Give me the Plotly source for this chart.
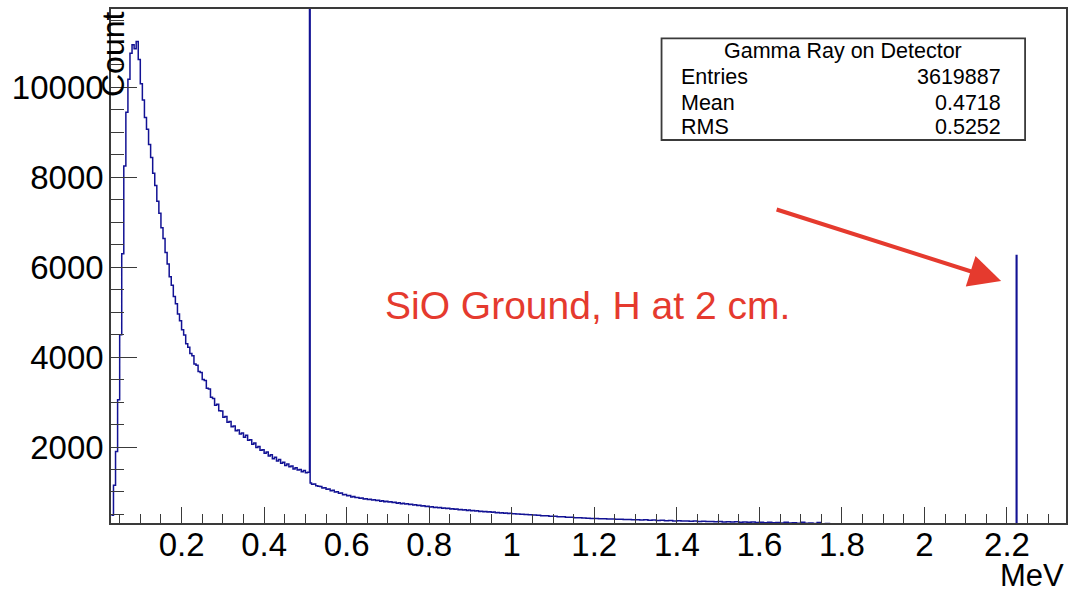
import numpy as np
import plotly.graph_objects as go

# ---- data ----
# bins of 0.005 MeV starting at 0.030 MeV
counts_low = [480, 1150, 1900, 3050, 4500, 6300, 8250, 9450, 10180, 10760,
              10950, 10860, 11020, 10620, 10080, 9720, 9330, 9070, 8730, 8440,
              8090, 7820, 7470, 7200, 6880, 6640, 6330, 6070, 5790, 5600,
              5350, 5190, 4960, 4810, 4610, 4490, 4300, 4220, 4080, 4030,
              3850, 3820, 3680, 3660, 3500, 3480, 3310, 3290, 3110, 3080,
              2930, 2950, 2810, 2800, 2660, 2680, 2550, 2570, 2450, 2470,
              2360, 2380, 2290, 2310, 2220, 2260, 2150, 2160, 2060, 2090,
              1990, 2010, 1930, 1940, 1860, 1890, 1800, 1830, 1740, 1770,
              1690, 1720, 1640, 1660, 1590, 1620, 1560, 1580, 1510, 1540,
              1490, 1500, 1450, 1480, 1430, 1440]
# annihilation line bin (0.510-0.5115 MeV)
peak_511 = 40000
# bins after the 511 keV line: first 0.5115-0.515, then 0.005 MeV bins up to 1.0 MeV
counts_mid = [1200,
              1170, 1180, 1140, 1130, 1120, 1090, 1095, 1060, 1065, 1030,
              1040, 1000, 1005, 970, 975, 940, 945, 915, 920, 890,
              900, 875, 880, 860, 865, 845, 850, 835, 840, 820,
              830, 810, 815, 795, 805, 785, 795, 775, 785, 765,
              770, 750, 760, 740, 750, 730, 738, 720, 728, 708,
              715, 698, 705, 688, 694, 676, 683, 665, 672, 656,
              663, 648, 654, 639, 646, 631, 637, 622, 629, 614,
              621, 607, 612, 598, 605, 590, 597, 583, 588, 575,
              580, 567, 573, 561, 565, 553, 559, 547, 552, 540,
              545, 534, 539, 528, 532, 521, 526]
# 0.01 MeV bins from 1.0 to 1.8 MeV
counts_high = [515, 508, 506, 497, 495, 486, 484, 474, 472, 462,
               460, 450, 448, 439, 437, 428, 427, 419, 418, 411,
               411, 404, 405, 398, 399, 393, 394, 388, 390, 383,
               385, 378, 380, 372, 375, 366, 369, 361, 364, 357,
               360, 352, 356, 348, 352, 345, 349, 342, 346, 338,
               343, 335, 340, 332, 337, 329, 334, 326, 331, 322,
               328, 318, 325, 315, 322, 312, 327, 309, 316, 305,
               325, 302, 309, 298, 322, 295, 300, 292, 296, 289]
tail_before = 250      # 1.80 - 2.2225 MeV
peak_2223 = 6260       # neutron capture on H line
tail_after = 150       # 2.224 - 2.35 MeV

stats_title = "Gamma Ray on Detector"
stats_rows = [("Entries", "3619887"), ("Mean", "0.4718"), ("RMS", "0.5252")]
note_text = "SiO Ground, H at 2 cm."

# ---- histogram edges ----
edges = list(np.round(0.030 + 0.005 * np.arange(len(counts_low)), 4))
vals = list(counts_low)
edges += [0.510]
vals += [peak_511]
edges += [0.5115] + list(np.round(0.515 + 0.005 * np.arange(len(counts_mid) - 1), 4))
vals += counts_mid
edges += list(np.round(1.0 + 0.01 * np.arange(len(counts_high)), 4))
vals += counts_high
edges += [1.80, 2.2225, 2.224]
vals += [tail_before, peak_2223, tail_after]
edges += [2.35]
vals += [tail_after]

hist_color = "#121294"
font_family = "Liberation Sans, Arial, Helvetica, sans-serif"

fig = go.Figure()
fig.add_trace(go.Scatter(x=edges, y=vals, mode="lines", line_shape="hv",
                         line=dict(color=hist_color, width=1.5),
                         hoverinfo="skip", showlegend=False))

W, H = 1075, 594
ml, mr, mt, mb = 111, 7, 9, 71
pw, ph = W - ml - mr, H - mt - mb

def px(xp):
    return (xp - ml) / pw

def py(yp):
    return (H - mb - yp) / ph

axis_line = dict(showline=True, linecolor="#3a3a3a", linewidth=1.6, mirror=True,
                 showgrid=False, zeroline=False)

fig.update_layout(
    width=W, height=H,
    margin=dict(l=ml, r=mr, t=mt, b=mb, pad=0),
    paper_bgcolor="white", plot_bgcolor="white",
    font=dict(family=font_family, color="black"),
    xaxis=dict(range=[0.029, 2.343], dtick=0.2, tick0=0, ticks="inside",
               ticklen=16, tickwidth=1.3, tickcolor="#3a3a3a",
               tickfont=dict(size=33), ticklabelstandoff=-8,
               minor=dict(dtick=0.05, tick0=0, ticks="inside", ticklen=9,
                          tickwidth=1.2, tickcolor="#3a3a3a"),
               **axis_line),
    yaxis=dict(range=[310, 11745], dtick=2000, tick0=0, ticks="inside",
               ticklen=26, tickwidth=1.3, tickcolor="#3a3a3a", tickformat="d",
               tickfont=dict(size=33), ticklabelstandoff=-1,
               minor=dict(dtick=500, tick0=0, ticks="inside", ticklen=13,
                          tickwidth=1.2, tickcolor="#3a3a3a"),
               **axis_line),
)

# axis titles (ROOT style)
fig.add_annotation(text="Count", xref="paper", yref="paper", x=px(112.5), y=py(53.5),
                   textangle=-90, showarrow=False, xanchor="center", yanchor="middle",
                   font=dict(size=32))
fig.add_annotation(text="MeV", xref="paper", yref="paper", x=px(1067), y=py(575),
                   showarrow=False, xanchor="right", yanchor="middle", borderpad=0,
                   font=dict(size=31))

# stats box
bx0, bx1, by0, by1 = 662.7, 1027, 38.3, 140
fig.add_shape(type="rect", xref="paper", yref="paper",
              x0=px(bx0), x1=px(bx1), y0=py(by1), y1=py(by0),
              line=dict(color="#3a3a3a", width=1.8), fillcolor="white", layer="above")
fig.add_annotation(text=stats_title, xref="paper", yref="paper",
                   x=px((bx0 + bx1) / 2), y=py(51), showarrow=False,
                   xanchor="center", yanchor="middle", font=dict(size=21.5))
row_y = [77.5, 103, 127.5]
for (lab, val), yy in zip(stats_rows, row_y):
    fig.add_annotation(text=lab, xref="paper", yref="paper", x=px(680), y=py(yy),
                       showarrow=False, xanchor="left", yanchor="middle",
                       font=dict(size=21.5))
    fig.add_annotation(text=val, xref="paper", yref="paper", x=px(1005), y=py(yy),
                       showarrow=False, xanchor="right", yanchor="middle",
                       font=dict(size=21.5))

# red note and arrow
red = "#e53a2e"
fig.add_annotation(text=note_text, xref="paper", yref="paper", x=px(588.5), y=py(305),
                   showarrow=False, xanchor="center", yanchor="middle",
                   font=dict(size=39, color=red))
fig.add_annotation(text="", xref="paper", yref="paper", x=px(1003), y=py(281),
                   ax=777 - 1003, ay=209 - 281, showarrow=True, arrowhead=2,
                   arrowsize=1.6, arrowwidth=4, arrowcolor=red, standoff=0)

fig.write_html("out.html")
